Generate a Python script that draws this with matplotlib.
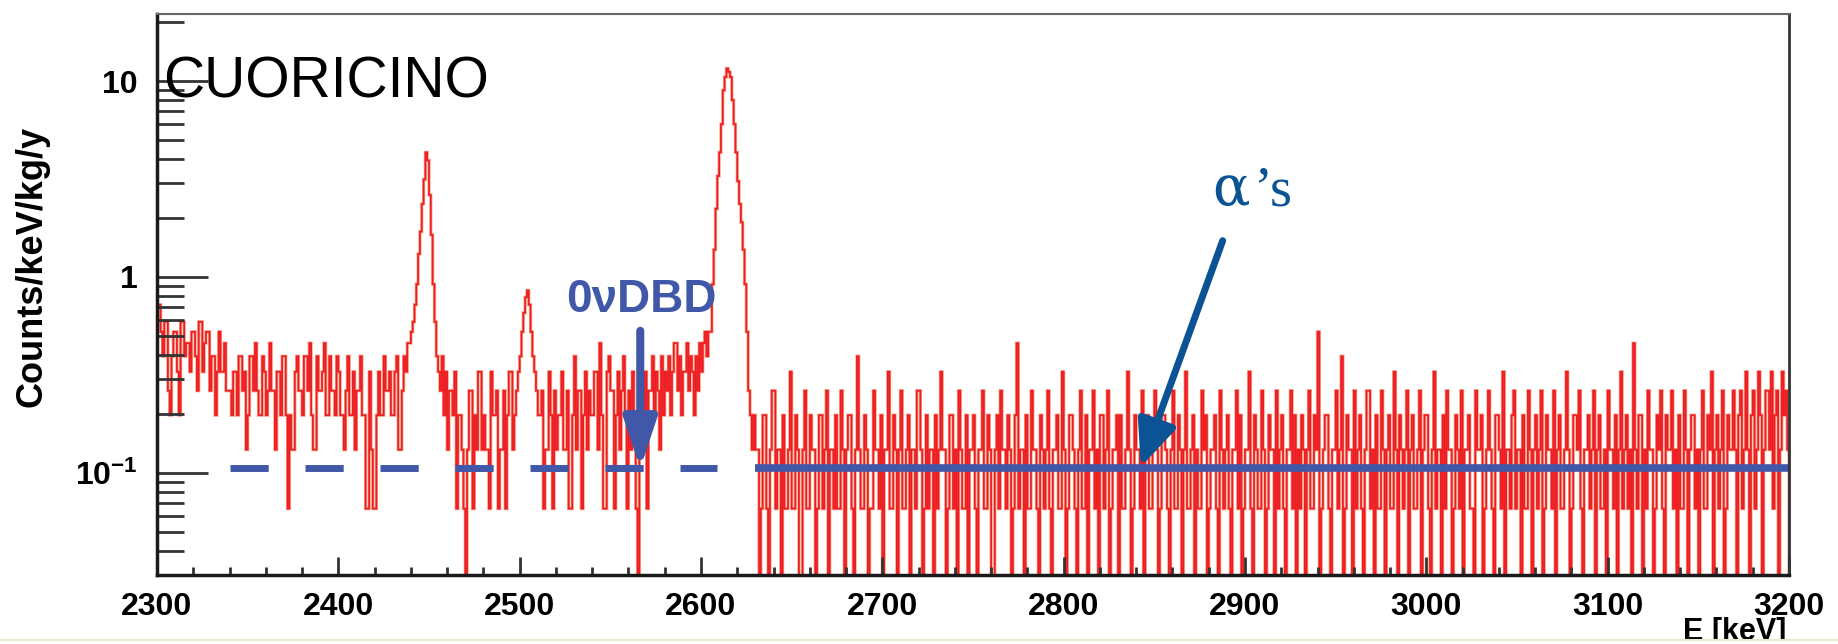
"""CUORICINO background spectrum in the 0vDBD / alpha region."""
import numpy as np
import matplotlib.pyplot as plt
from matplotlib.patches import Rectangle
from matplotlib.lines import Line2D
from matplotlib.ticker import FixedLocator, FixedFormatter, LogLocator, NullFormatter, MultipleLocator

plt.rcParams["font.family"] = ["Liberation Sans", "DejaVu Sans"]
plt.rcParams["mathtext.fontset"] = "custom"
plt.rcParams["mathtext.bf"] = "Liberation Sans:bold"
plt.rcParams["mathtext.rm"] = "Liberation Sans"

# histogram: 1 keV bins, counts per bin; one count = 0.0655 counts/keV/kg/y
e_min, e_max, bin_width = 2300, 3200, 1
unit = 0.0655

# 2300 - 2630 keV (gamma region: 214Bi 2448, 60Co 2505, 208Tl 2615)
counts_gamma = [
    11, 11, 8, 6, 9, 9, 4, 3, 6, 8, 8, 5, 3, 9, 9, 6, 7, 7, 5, 8,
    8, 6, 4, 9, 9, 5, 7, 8, 8, 4, 6, 6, 3, 5, 8, 5, 5, 7, 4, 4,
    4, 3, 5, 5, 3, 6, 6, 4, 5, 2, 3, 6, 6, 4, 7, 4, 3, 3, 6, 5,
    3, 4, 7, 4, 4, 2, 5, 5, 3, 6, 6, 3, 1, 3, 2, 2, 5, 6, 4, 4,
    3, 6, 6, 4, 7, 3, 2, 2, 6, 4, 4, 5, 7, 3, 3, 6, 4, 4, 3, 6,
    5, 3, 3, 2, 4, 6, 3, 3, 5, 2, 4, 4, 6, 3, 3, 1, 1, 5, 2, 1,
    1, 3, 5, 3, 3, 6, 4, 4, 5, 3, 3, 5, 6, 2, 2, 4, 6, 5, 7, 7,
    8, 9, 11, 14, 20, 26, 36, 48, 66, 60, 40, 25, 14, 9, 6, 5, 4, 6, 3, 5,
    2, 4, 4, 3, 5, 1, 3, 3, 2, 1, 0, 2, 4, 4, 1, 3, 2, 5, 5, 2,
    3, 2, 2, 1, 5, 3, 3, 4, 1, 2, 2, 4, 1, 3, 5, 5, 2, 3, 4, 5,
    6, 8, 10, 12, 13, 11, 8, 6, 5, 4, 3, 3, 4, 1, 2, 2, 5, 3, 1, 4,
    2, 3, 3, 5, 2, 2, 4, 1, 1, 3, 6, 2, 4, 4, 1, 3, 5, 2, 4, 3,
    3, 5, 5, 2, 7, 3, 1, 1, 5, 6, 4, 4, 1, 3, 5, 2, 4, 6, 3, 1,
    4, 2, 5, 3, 1, 0, 4, 2, 2, 5, 1, 4, 4, 6, 3, 5, 4, 2, 6, 3,
    5, 4, 6, 3, 5, 7, 7, 4, 6, 3, 5, 5, 7, 4, 6, 5, 3, 6, 4, 7,
    5, 7, 8, 6, 8, 8, 14, 21, 34, 50, 66, 92, 137, 160, 177, 170, 160, 122, 92, 66,
    47, 36, 29, 21, 14, 8, 4, 3, 2, 3,
]

# 2630 - 3200 keV (flat alpha region)
counts_alpha = [
    2, 2, 0, 1, 3, 3, 1, 0, 2, 4, 4, 1, 2, 2, 0, 3, 1, 1, 2, 5,
    1, 1, 3, 2, 0, 0, 2, 4, 1, 1, 3, 2, 2, 0, 1, 3, 3, 1, 2, 4,
    0, 2, 2, 1, 3, 1, 1, 4, 2, 0, 2, 3, 3, 1, 0, 2, 6, 2, 1, 1,
    3, 2, 0, 1, 1, 4, 2, 2, 1, 3, 0, 2, 2, 5, 1, 1, 3, 2, 0, 2,
    4, 1, 1, 2, 3, 0, 2, 2, 1, 4, 4, 2, 0, 1, 3, 1, 2, 2, 0, 3,
    1, 2, 5, 2, 2, 0, 1, 3, 3, 1, 2, 0, 4, 2, 1, 1, 3, 0, 2, 2,
    3, 1, 0, 2, 2, 4, 1, 1, 3, 2, 0, 0, 2, 3, 1, 4, 2, 2, 1, 3,
    2, 0, 1, 3, 7, 1, 2, 2, 0, 3, 1, 1, 4, 2, 2, 1, 0, 3, 2, 1,
    2, 4, 1, 0, 2, 2, 3, 1, 1, 5, 2, 0, 1, 3, 3, 2, 1, 0, 2, 4,
    1, 1, 3, 0, 2, 2, 4, 1, 2, 0, 3, 3, 1, 2, 4, 0, 1, 2, 2, 3,
    0, 3, 1, 1, 2, 5, 2, 0, 1, 3, 2, 2, 1, 4, 0, 2, 3, 1, 1, 2,
    4, 2, 0, 1, 3, 3, 2, 1, 0, 2, 4, 1, 1, 3, 2, 0, 2, 5, 1, 1,
    2, 3, 0, 2, 1, 1, 4, 2, 3, 0, 1, 2, 2, 3, 1, 0, 4, 2, 1, 2,
    3, 1, 0, 2, 2, 4, 1, 3, 0, 1, 2, 2, 5, 1, 0, 3, 2, 1, 1, 4,
    2, 0, 1, 3, 2, 2, 0, 4, 1, 2, 3, 1, 0, 2, 2, 4, 1, 3, 0, 2,
    1, 3, 2, 0, 2, 4, 1, 1, 3, 2, 8, 0, 1, 2, 3, 3, 1, 0, 2, 2,
    4, 1, 2, 6, 0, 1, 3, 2, 2, 0, 4, 1, 2, 3, 1, 0, 2, 4, 4, 1,
    2, 0, 3, 1, 1, 4, 2, 0, 2, 3, 1, 1, 5, 2, 0, 3, 2, 1, 2, 4,
    0, 2, 3, 1, 1, 2, 4, 0, 2, 3, 3, 1, 0, 2, 5, 1, 2, 2, 0, 3,
    1, 4, 2, 2, 0, 1, 3, 2, 1, 4, 0, 2, 2, 3, 1, 1, 0, 4, 2, 2,
    3, 0, 1, 2, 4, 2, 1, 0, 3, 3, 2, 1, 5, 0, 2, 2, 1, 3, 4, 1,
    2, 2, 0, 3, 1, 1, 4, 2, 0, 2, 3, 1, 2, 4, 0, 1, 3, 2, 2, 1,
    4, 0, 2, 3, 1, 1, 2, 5, 2, 0, 1, 3, 3, 2, 4, 1, 0, 2, 2, 3,
    1, 2, 4, 0, 2, 3, 1, 1, 2, 0, 4, 2, 2, 1, 3, 0, 2, 5, 1, 2,
    3, 1, 2, 0, 7, 2, 1, 3, 3, 0, 2, 1, 4, 2, 2, 0, 1, 3, 2, 4,
    1, 0, 3, 2, 2, 4, 1, 2, 0, 3, 1, 1, 4, 2, 0, 2, 3, 3, 1, 2,
    0, 2, 4, 1, 1, 3, 2, 5, 0, 2, 3, 1, 2, 4, 0, 1, 3, 2, 2, 4,
    2, 0, 3, 4, 1, 2, 5, 2, 0, 3, 4, 1, 2, 5, 3, 0, 2, 4, 4, 2,
    5, 1, 3, 4, 0, 2, 5, 3, 4, 2,
]

# flat background levels and annotations
bkg_level = 0.105
dashed_range = (2340, 2609)
solid_range = (2630, 3200)
qbb_energy = 2566.5
qbb_arrow_top = 0.53
alpha_arrow_start = (2887.7, 1.53)
alpha_arrow_tip = (2842.5, 0.107)

RED = "#ee1d23"
SALMON = "#f6a58a"
BLUE = "#4157a8"
DARK_BLUE = "#0b5394"

counts = np.array(counts_gamma + counts_alpha, dtype=float)
edges = e_min + bin_width * np.arange(len(counts) + 1)
rate = np.where(counts > 0, counts * unit, 1e-3)

fig = plt.figure(figsize=(18.38, 6.44), dpi=100)
ax = fig.add_axes([157 / 1838, 1 - 575 / 644, (1789 - 157) / 1838, (575 - 14) / 644])

ax.stairs(rate, edges, baseline=1e-3, color=SALMON, lw=2.3)
ax.stairs(rate, edges, baseline=1e-3, color=RED, lw=1.25)

ax.set_yscale("log")
ax.set_xlim(e_min, e_max)
ax.set_ylim(0.03, 22)

# background lines
ax.plot(dashed_range, [bkg_level] * 2, color=BLUE, lw=5,
        linestyle=(0, (5.5, 5.3)), solid_capstyle="butt")
ax.plot(solid_range, [bkg_level] * 2, color=BLUE, lw=5.5, solid_capstyle="butt")

# arrows
ax.annotate("", xy=(qbb_energy, bkg_level), xytext=(qbb_energy, qbb_arrow_top),
            arrowprops=dict(arrowstyle="-|>,head_length=30,head_width=10",
                            mutation_scale=1, lw=5.8, color=BLUE,
                            shrinkA=0, shrinkB=0))
ax.annotate("", xy=alpha_arrow_tip, xytext=alpha_arrow_start,
            arrowprops=dict(arrowstyle="-|>,head_length=28,head_width=12",
                            mutation_scale=1, lw=5, color=DARK_BLUE,
                            shrinkA=0, shrinkB=0))

# axes styling (ROOT-like)
for side in ("left", "bottom"):
    ax.spines[side].set_linewidth(2.5)
    ax.spines[side].set_color("#1a1a1a")
ax.spines["top"].set_linewidth(1.5)
ax.spines["top"].set_color("#666666")
ax.spines["right"].set_linewidth(2)
ax.spines["right"].set_color("#333333")

ax.xaxis.set_major_locator(MultipleLocator(100))
ax.xaxis.set_minor_locator(MultipleLocator(20))
ax.yaxis.set_major_locator(FixedLocator([0.1, 1, 10]))
ax.yaxis.set_major_formatter(FixedFormatter([r"$\mathbf{10^{-1}}$", "1", "10"]))
ax.yaxis.set_minor_locator(LogLocator(base=10, subs=np.arange(2, 10)))
ax.yaxis.set_minor_formatter(NullFormatter())

ax.tick_params(axis="y", which="major", direction="in", length=37, width=2,
               color="#333333", pad=14, labelsize=23)
ax.tick_params(axis="y", which="minor", direction="in", length=19.5, width=2,
               color="#333333")
ax.tick_params(axis="x", which="major", direction="in", length=13, width=2,
               color="#333333", pad=12, labelsize=23)
ax.tick_params(axis="x", which="minor", direction="in", length=6, width=2,
               color="#333333")
for lab in ax.get_xticklabels() + ax.get_yticklabels():
    lab.set_fontweight("bold")

ax.set_ylabel("Counts/keV/kg/y", fontsize=26, fontweight="bold")
ax.yaxis.set_label_coords(-0.066, 0.55)

# texts
fig.text(163 / 1838, 1 - 97 / 644, "CUORICINO", fontsize=41, va="baseline")
fig.text(566 / 1838, 1 - 312 / 644, "0νDBD", fontsize=33, fontweight="bold",
         color=BLUE, va="baseline")
fig.text(1212 / 1838, 1 - 205 / 644, "α", fontsize=40, color=DARK_BLUE,
         va="baseline", family=["DejaVu Serif"])
fig.text(1254 / 1838, 1 - 205 / 644, "’s", fontsize=41, color=DARK_BLUE,
         va="baseline", family=["Liberation Serif", "DejaVu Serif"])
fig.text(1786 / 1838, 1 - 617 / 644, "E [keV]", fontsize=22, fontweight="bold",
         ha="right", va="top")

# clipped bottom strip with faint green rule
fig.add_artist(Rectangle((0, 0), 1, 5 / 644, transform=fig.transFigure,
                         facecolor="white", edgecolor="none", zorder=10))
fig.add_artist(Line2D([0, 1], [4.5 / 644] * 2, transform=fig.transFigure,
                      color="#e3ecc8", lw=1.5, zorder=11))

fig.savefig("out.png", dpi=100)
print("Saved out.png")
